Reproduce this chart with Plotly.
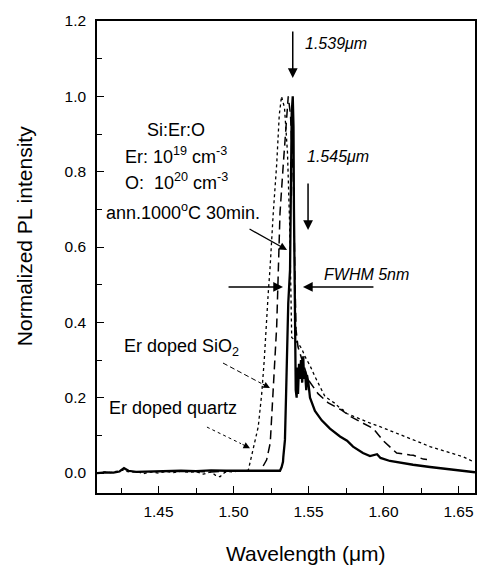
import plotly.graph_objects as go

# Si:Er:O film (solid)
sieo_wl = [1.409, 1.415, 1.420, 1.424, 1.427, 1.430, 1.435, 1.445, 1.455, 1.465, 1.475,
           1.485, 1.495, 1.505, 1.515, 1.525, 1.529, 1.531, 1.5321, 1.533, 1.5332, 1.5343,
           1.535, 1.5355, 1.5365, 1.5377, 1.5383, 1.5388, 1.5395, 1.540, 1.5403, 1.5407,
           1.541, 1.5415, 1.5421, 1.5425, 1.543, 1.5437, 1.5443, 1.545, 1.5458, 1.5465,
           1.547, 1.5477, 1.5485, 1.549, 1.5499, 1.551, 1.5543, 1.5588, 1.5643, 1.571,
           1.5757, 1.5797, 1.5863, 1.591, 1.5957, 1.598, 1.6043, 1.612, 1.6197, 1.631,
           1.6423, 1.652, 1.661]
sieo_pl = [0.000, 0.002, 0.001, 0.004, 0.013, 0.006, 0.003, 0.004, 0.005, 0.006, 0.005,
           0.007, 0.006, 0.006, 0.007, 0.006, 0.006, 0.006, 0.016, 0.030, 0.042, 0.088,
           0.200, 0.270, 0.450, 0.540, 0.780, 0.955, 1.000, 0.920, 0.700, 0.450,
           0.300, 0.220, 0.200, 0.280, 0.210, 0.290, 0.250, 0.300, 0.240, 0.310,
           0.250, 0.270, 0.220, 0.260, 0.240, 0.200, 0.165, 0.140, 0.118, 0.097,
           0.086, 0.070, 0.053, 0.045, 0.050, 0.040, 0.032, 0.026, 0.022, 0.016,
           0.010, 0.006, 0.002]

# Er doped SiO2 (dashed)
sio2_wl = [1.475, 1.485, 1.495, 1.505, 1.512, 1.518, 1.5221, 1.5245, 1.5261, 1.5277,
           1.5288, 1.5299, 1.531, 1.5332, 1.5365, 1.538, 1.5399, 1.541, 1.5417, 1.543,
           1.5463, 1.5499, 1.5565, 1.5632, 1.5721, 1.578, 1.585, 1.5932, 1.600, 1.6088,
           1.6177, 1.6199, 1.6265, 1.629]
sio2_pl = [0.004, 0.003, 0.005, 0.004, 0.005, 0.006, 0.035, 0.080, 0.210, 0.300,
           0.390, 0.540, 0.690, 0.820, 1.000, 0.950, 0.780, 0.510, 0.380, 0.335,
           0.290, 0.247, 0.210, 0.186, 0.167, 0.150, 0.135, 0.118, 0.085, 0.053,
           0.048, 0.047, 0.037, 0.036]

# Er doped quartz (dotted)
quartz_wl = [1.409, 1.414, 1.418, 1.422, 1.426, 1.428, 1.432, 1.436, 1.440, 1.445, 1.450,
             1.455, 1.460, 1.465, 1.470, 1.475, 1.480, 1.485, 1.488, 1.491, 1.494, 1.497,
             1.500, 1.503, 1.506, 1.5099, 1.5132, 1.5165, 1.5188, 1.5205, 1.5232, 1.5243,
             1.5265, 1.5288, 1.5305, 1.532, 1.534, 1.536, 1.5375, 1.5388, 1.5432, 1.5455,
             1.5477, 1.551, 1.5543, 1.558, 1.561, 1.5643, 1.5677, 1.5705, 1.5732, 1.5755,
             1.579, 1.583, 1.5865, 1.592, 1.5977, 1.603, 1.6088, 1.614, 1.6199, 1.625,
             1.631, 1.637, 1.6421, 1.648, 1.6532, 1.6599]
quartz_pl = [0.000, 0.003, 0.001, 0.004, 0.008, 0.005, 0.002, 0.004, -0.002, 0.003, 0.000,
             0.004, 0.001, 0.005, 0.002, 0.004, -0.003, 0.003, -0.006, -0.010, 0.001, 0.004,
             0.003, 0.006, 0.005, 0.008, 0.070, 0.123, 0.210, 0.300, 0.480, 0.540,
             0.690, 0.820, 0.950, 1.000, 0.970, 0.850, 0.650, 0.360, 0.344, 0.330,
             0.309, 0.285, 0.256, 0.225, 0.203, 0.194, 0.185, 0.174, 0.167, 0.158,
             0.152, 0.147, 0.141, 0.131, 0.123, 0.115, 0.105, 0.097, 0.088, 0.080,
             0.070, 0.063, 0.057, 0.050, 0.043, 0.030]

x_ticks = [1.45, 1.50, 1.55, 1.60, 1.65]
y_ticks = [0.0, 0.2, 0.4, 0.6, 0.8, 1.0, 1.2]

FONT = "Liberation Sans, Arial, sans-serif"

fig = go.Figure()
fig.add_trace(go.Scatter(x=quartz_wl, y=quartz_pl, mode="lines",
                         line=dict(color="black", width=1.3, dash="dot")))
fig.add_trace(go.Scatter(x=sio2_wl, y=sio2_pl, mode="lines",
                         line=dict(color="black", width=1.5, dash="9px,5px")))
fig.add_trace(go.Scatter(x=sieo_wl, y=sieo_pl, mode="lines",
                         line=dict(color="black", width=2.3)))

def arrow(x, y, ax, ay, width=1.3, size=1.2):
    fig.add_annotation(x=x, y=y, ax=ax, ay=ay, xref="x", yref="y", axref="x", ayref="y",
                       showarrow=True, arrowhead=2, arrowsize=size, arrowwidth=width,
                       arrowcolor="black", text="")

def label(x, y, text, size=18, italic=False, xanchor="left"):
    fig.add_annotation(x=x, y=y, xref="x", yref="y", text=text, showarrow=False,
                       xanchor=xanchor, yanchor="middle",
                       font=dict(family=FONT, size=size, color="black",
                                 style="italic" if italic else "normal"))

# peak markers
arrow(1.5395, 1.049, 1.5395, 1.176, width=1.5, size=1.3)
label(1.5463, 1.1415, "1.539\u03bcm", size=16, italic=True)
arrow(1.5497, 0.645, 1.5497, 0.7725, width=1.5, size=1.3)
label(1.5477, 0.839, "1.545\u03bcm", size=16, italic=True)

# FWHM markers
arrow(1.533, 0.494, 1.4957, 0.494, width=1.5, size=1.3)
arrow(1.5463, 0.494, 1.5943, 0.494, width=1.5, size=1.3)
label(1.559, 0.526, "FWHM 5nm", size=16, italic=True)

# sample description
label(1.4617, 0.911, "Si:Er:O", xanchor="center")
label(1.4617, 0.844, "Er: 10<sup>19</sup> cm<sup>-3</sup>", xanchor="center")
label(1.4623, 0.773, "O:  10<sup>20</sup> cm<sup>-3</sup>", xanchor="center")
label(1.4663, 0.693, "ann.1000<sup>o</sup>C 30min.", xanchor="center")
arrow(1.5357, 0.592, 1.5097, 0.650, width=1.3, size=1.2)

# reference samples
label(1.4257, 0.334, "Er doped SiO<sub>2</sub>")
fig.add_shape(type="line", xref="x", yref="y", x0=1.493, y0=0.292, x1=1.5185, y1=0.238,
              line=dict(color="black", width=1, dash="5px,3px"))
arrow(1.5243, 0.226, 1.5185, 0.238, width=1, size=1.3)

label(1.4157, 0.1726, "Er doped quartz")
fig.add_shape(type="line", xref="x", yref="y", x0=1.4823, y0=0.122, x1=1.505, y1=0.078,
              line=dict(color="black", width=1, dash="dot"))
arrow(1.511, 0.066, 1.505, 0.078, width=1, size=1.3)

# axis titles
fig.add_annotation(x=0.553, y=-0.129, xref="paper", yref="paper", showarrow=False,
                   text="Wavelength (\u03bcm)", xanchor="center", yanchor="middle",
                   font=dict(family=FONT, size=21, color="black"))
fig.add_annotation(x=-0.19, y=0.5445, xref="paper", yref="paper", showarrow=False,
                   text="Normalized PL intensity", textangle=-90,
                   xanchor="center", yanchor="middle",
                   font=dict(family=FONT, size=21, color="black"))

axis_common = dict(showline=True, linecolor="black", linewidth=1.5, mirror=True,
                   ticks="inside", ticklen=7, tickwidth=1.2, tickcolor="black",
                   showgrid=False, zeroline=False,
                   tickfont=dict(family=FONT, size=15.5, color="black"))

fig.update_xaxes(range=[1.409, 1.661], tickvals=x_ticks,
                 ticktext=[f"{v:.2f}" for v in x_ticks],
                 minor=dict(ticks="inside", ticklen=5, tickwidth=1.2, tickcolor="black",
                            dtick=0.025, tick0=1.4, showgrid=False),
                 ticklabelstandoff=4, **axis_common)
fig.update_yaxes(range=[-0.053, 1.2], tickvals=y_ticks,
                 ticktext=[f"{v:.1f}" for v in y_ticks],
                 minor=dict(ticks="inside", ticklen=5, tickwidth=1.2, tickcolor="black",
                            dtick=0.1, tick0=0, showgrid=False),
                 ticklabelstandoff=6, **axis_common)

fig.update_layout(width=482, height=567, showlegend=False,
                  margin=dict(l=97, r=7, t=21, b=74, autoexpand=False),
                  plot_bgcolor="white", paper_bgcolor="white")

fig.write_html("out.html")
